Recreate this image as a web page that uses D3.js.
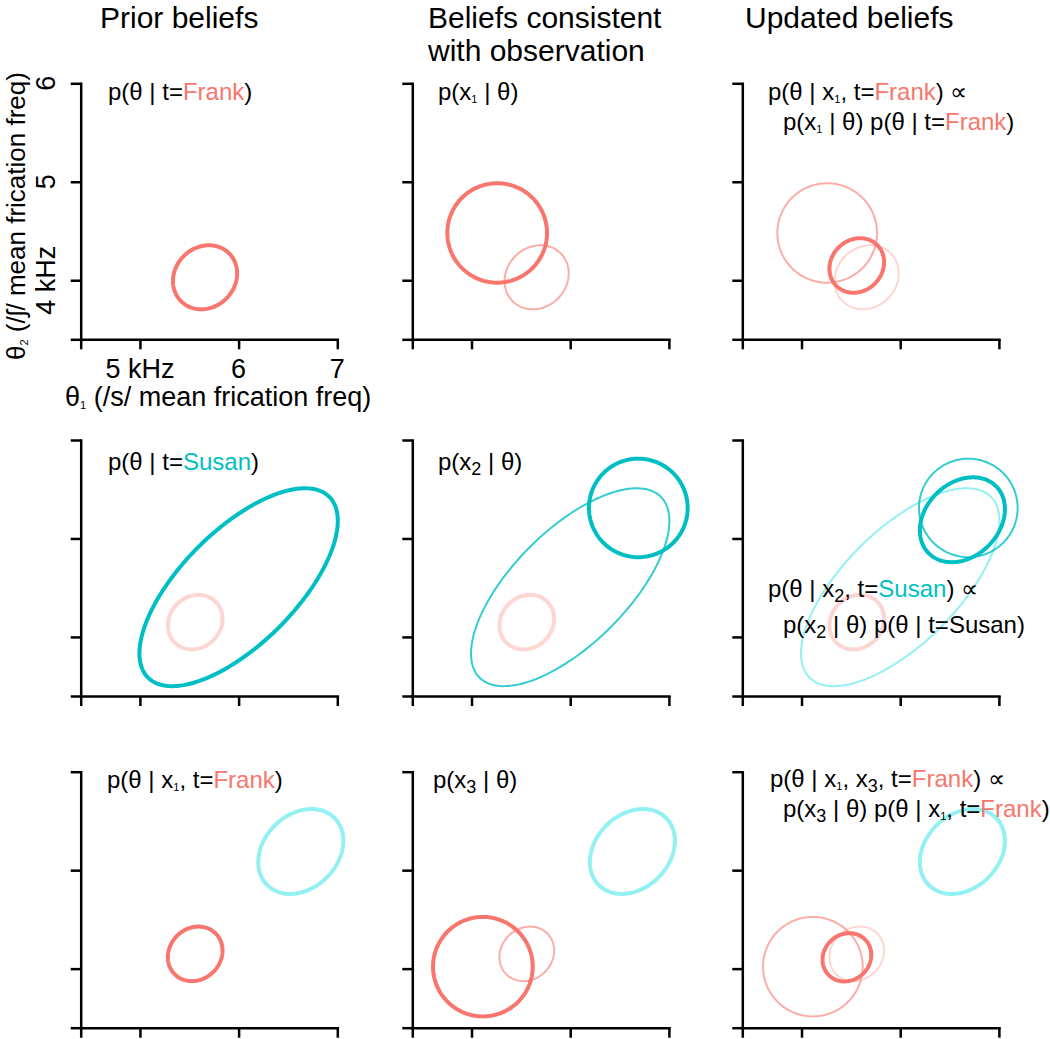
<!DOCTYPE html>
<html>
<head>
<meta charset="utf-8">
<script src="https://cdn.jsdelivr.net/npm/d3@7"></script>
<style>
  html, body { margin: 0; padding: 0; background: #fff; }
  svg text { font-family: "Liberation Sans", Arial, Helvetica, sans-serif; white-space: pre; }
</style>
</head>
<body>
<svg id="chart" width="1050" height="1039"></svg>
<script>
// ---------------- data ----------------
const distNames = ["FrankPrior", "Lik1", "FrankPost1", "SusanPrior", "Lik2", "SusanPost", "Lik3", "FrankPost13"];
const centerX   = [5.66, 5.26, 5.56, 6.00, 6.69, 6.63, 5.115, 5.46];
const centerY   = [4.03, 4.48, 4.15, 4.505, 5.31, 5.19, 4.02, 4.115];
const spreadX   = [0.325, 0.505, 0.277, 1.005, 0.50, 0.431, 0.505, 0.247];
const spreadY   = [0.325, 0.505, 0.277, 1.005, 0.50, 0.431, 0.505, 0.245];
const corr      = [0.12, 0.0, 0.12, 0.67, 0.0, 0.25, 0.0, 0.10];

const xTicks = [4.4, 5, 6, 7];
const xTickLabels = ["", "5 kHz", "6", "7"];
const yTicks = [3.4, 4, 5, 6];
const yTickLabels = ["", "4 kHz", "5", "6"];
const xDomain = [4.4, 7];
const yDomain = [3.4, 6];

const columnTitles = [["Prior beliefs"], ["Beliefs consistent", "with observation"], ["Updated beliefs"]];
const xTitle = [["θ"], ["1", "s1"], [" (/s/ mean frication freq)"]];
const yTitle = [["θ"], ["2", "s1"], [" (/ʃ/ mean frication freq)"]];

// panel contents: [distribution, hue, look]
const panelContents = [
  [["FrankPrior", "F", "bold"]],
  [["FrankPrior", "F", "thinMid"], ["Lik1", "F", "bold"]],
  [["Lik1", "F", "thinMid"], ["FrankPrior", "F", "thinFaint"], ["FrankPost1", "F", "bold"]],
  [["FrankPost1", "F", "boldFaint"], ["SusanPrior", "S", "bold"]],
  [["FrankPost1", "F", "boldFaint"], ["SusanPrior", "S", "thinMid"], ["Lik2", "S", "bold"]],
  [["FrankPost1", "F", "boldFaint"], ["SusanPrior", "S", "thinFaint"], ["Lik2", "S", "thinMid"], ["SusanPost", "S", "bold"]],
  [["SusanPost", "S", "boldFaint"], ["FrankPost1", "F", "bold"]],
  [["SusanPost", "S", "boldFaint"], ["FrankPost1", "F", "thinMid"], ["Lik3", "F", "bold"]],
  [["SusanPost", "S", "boldFaint"], ["Lik3", "F", "thinMid"], ["FrankPost1", "F", "thinFaint"], ["FrankPost13", "F", "bold"]]
];

// panel labels: segments [text, kind]; kind: F red, S teal, s1 tiny subscript, s2 large subscript
const panelLabels = [
  [[["p(θ | t="], ["Frank", "F"], [")"]]],
  [[["p(x"], ["1", "s1"], [" | θ)"]]],
  [[["p(θ | x"], ["1", "s1"], [", t="], ["Frank", "F"], [") ∝"]],
   [["p(x"], ["1", "s1"], [" | θ) p(θ | t="], ["Frank", "F"], [")"]]],
  [[["p(θ | t="], ["Susan", "S"], [")"]]],
  [[["p(x"], ["2", "s2"], [" | θ)"]]],
  [[["p(θ | x"], ["2", "s2"], [", t="], ["Susan", "S"], [") ∝"]],
   [["p(x"], ["2", "s2"], [" | θ) p(θ | t=Susan)"]]],
  [[["p(θ | x"], ["1", "s1"], [", t="], ["Frank", "F"], [")"]]],
  [[["p(x"], ["3", "s2"], [" | θ)"]]],
  [[["p(θ | x"], ["1", "s1"], [", x"], ["3", "s2"], [", t="], ["Frank", "F"], [") ∝"]],
   [["p(x"], ["3", "s2"], [" | θ) p(θ | x"], ["1", "s1"], [", t="], ["Frank", "F"], [")"]]]
];

// ---------------- styles / layout ----------------
const RED = "#F8766D", TEAL = "#00BFC4", LIGHTCYAN = "#93F0F3";
const looks = {
  F: {
    bold:      {stroke: RED, opacity: 1, width: 4},
    boldFaint: {stroke: RED, opacity: 0.3, width: 4},
    thinMid:   {stroke: RED, opacity: 0.6, width: 2},
    thinFaint: {stroke: RED, opacity: 0.3, width: 2}
  },
  S: {
    bold:      {stroke: TEAL, opacity: 1, width: 4},
    boldFaint: {stroke: LIGHTCYAN, opacity: 1, width: 4},
    thinMid:   {stroke: TEAL, opacity: 0.8, width: 2},
    thinFaint: {stroke: LIGHTCYAN, opacity: 1, width: 2}
  }
};
const textColor = {F: RED, S: TEAL};

const colX0 = [80.7, 412.3, 742.3];
const rowY0 = [83.3, 440, 771.7];
const pW = 256.6, pH = 256;
const labelPos = [
  [[108, 99.5]], [[438, 100]], [[768, 100], [783, 130]],
  [[108, 470]], [[438, 470]], [[768, 597], [783, 633]],
  [[107, 788]], [[433, 788]], [[770, 787], [783, 817]]
];

const svg = d3.select("#chart");

function richText(g, x, y, segs, size) {
  const t = g.append("text").attr("x", x).attr("y", y).attr("font-size", size).attr("fill", "#000");
  let shift = 0;
  segs.forEach(([txt, kind]) => {
    const ts = t.append("tspan").text(txt);
    if (kind === "s1" || kind === "s2") {
      const d = kind === "s1" ? 3 : 5;
      ts.attr("font-size", kind === "s1" ? 11 : 18).attr("dy", d - shift);
      shift = d;
    } else {
      if (shift) { ts.attr("dy", -shift); shift = 0; }
      if (kind) ts.attr("fill", textColor[kind]);
    }
  });
  return t;
}

function ellipsePoints(i) {
  const n = 160, pts = [];
  const r = corr[i], s = Math.sqrt(1 - r * r);
  for (let k = 0; k < n; k++) {
    const t = 2 * Math.PI * k / n;
    pts.push([centerX[i] + spreadX[i] * Math.cos(t),
              centerY[i] + spreadY[i] * (r * Math.cos(t) + s * Math.sin(t))]);
  }
  return pts;
}

// ---------------- panels ----------------
for (let p = 0; p < 9; p++) {
  const row = Math.floor(p / 3), col = p % 3;
  const x = d3.scaleLinear().domain(xDomain).range([colX0[col], colX0[col] + pW]);
  const y = d3.scaleLinear().domain(yDomain).range([rowY0[row] + pH, rowY0[row]]);
  const g = svg.append("g");

  // axes
  const ax = g.append("g").attr("transform", `translate(0,${rowY0[row] + pH})`)
    .call(d3.axisBottom(x).tickValues(xTicks).tickSize(10).tickSizeOuter(0).tickFormat(""));
  const ay = g.append("g").attr("transform", `translate(${colX0[col]},0)`)
    .call(d3.axisLeft(y).tickValues(yTicks).tickSize(10).tickSizeOuter(0).tickFormat(""));
  [ax, ay].forEach(a => {
    a.selectAll("path,line").attr("stroke", "#000").attr("stroke-width", 2.5);
    a.select(".domain").attr("stroke-linecap", "square");
  });

  // ellipses
  const line = d3.line().x(d => x(d[0])).y(d => y(d[1])).curve(d3.curveLinearClosed);
  panelContents[p].forEach(([name, hue, look]) => {
    const i = distNames.indexOf(name);
    const st = looks[hue][look];
    g.append("path").attr("d", line(ellipsePoints(i)))
      .attr("fill", "none").attr("stroke", st.stroke)
      .attr("stroke-opacity", st.opacity).attr("stroke-width", st.width);
  });

  // labels
  panelLabels[p].forEach((segs, li) => {
    const [lx, ly] = labelPos[p][li];
    richText(g, lx, ly, segs, 24);
  });

  // tick labels & axis titles for first panel
  if (p === 0) {
    xTicks.forEach((v, k) => {
      if (!xTickLabels[k]) return;
      g.append("text").attr("x", x(v)).attr("y", 378).attr("text-anchor", "middle")
        .attr("font-size", 27).text(xTickLabels[k]);
    });
    yTicks.forEach((v, k) => {
      if (!yTickLabels[k]) return;
      g.append("text").attr("transform", `translate(55,${y(v)}) rotate(-90)`)
        .attr("text-anchor", "middle").attr("font-size", 27).text(yTickLabels[k]);
    });
    richText(g, 65, 406, xTitle, 27);
    const yt = richText(g, 0, 0, yTitle, 26);
    yt.attr("transform", "translate(25,360) rotate(-90)");
  }
}

// column titles
const titleX = [100, 428, 745];
columnTitles.forEach((lines, c) => {
  lines.forEach((ln, k) => {
    svg.append("text").attr("x", titleX[c]).attr("y", 28 + k * 33)
      .attr("font-size", 30).attr("fill", "#000").text(ln);
  });
});
</script>
</body>
</html>
